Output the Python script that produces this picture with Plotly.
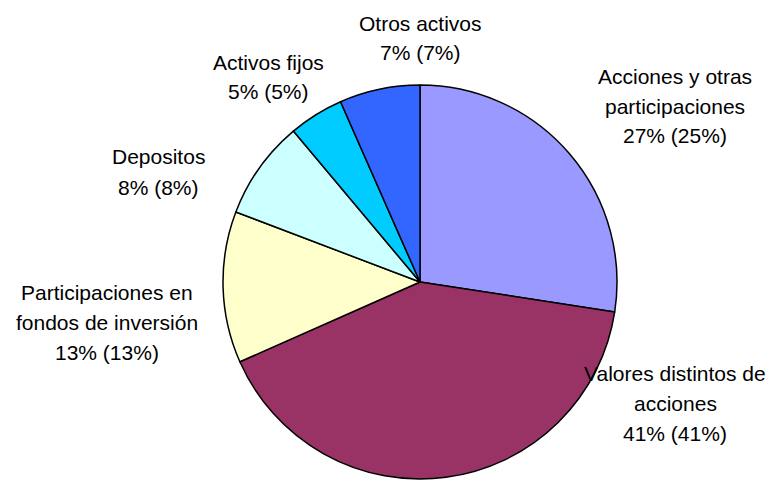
import plotly.graph_objects as go

# Data
categories = [
    "Acciones y otras participaciones",
    "Valores distintos de acciones",
    "Participaciones en fondos de inversión",
    "Depositos",
    "Activos fijos",
    "Otros activos",
]
label_lines = [
    ["Acciones y otras", "participaciones"],
    ["Valores distintos de", "acciones"],
    ["Participaciones en", "fondos de inversión"],
    ["Depositos"],
    ["Activos fijos"],
    ["Otros activos"],
]
slice_values = [27.4, 40.9, 12.4, 8.1, 4.5, 6.6]
current_pct = [27, 41, 13, 8, 5, 7]
previous_pct = [25, 41, 13, 8, 5, 7]

# Styles / layout (pixel positions in the 775x480 page; the page body adds an 8px margin)
colors = ["#9999FF", "#993366", "#FFFFCC", "#CCFFFF", "#00CCFF", "#3366FF"]
label_pos_px = [(675, 106), (675, 403), (107, 322), (158, 172), (268, 77), (420, 38)]
OFF = 8
W, H = 775 - OFF, 480 - OFF
cx, cy, r = 420 - OFF, 282 - OFF, 197
line_gap = 30

fig = go.Figure(
    go.Pie(
        labels=categories,
        values=slice_values,
        marker=dict(colors=colors, line=dict(color="black", width=1.5)),
        sort=False,
        direction="clockwise",
        rotation=0,
        textinfo="none",
        hoverinfo="label+percent",
        showlegend=False,
        domain=dict(x=[(cx - r) / W, (cx + r) / W], y=[1 - (cy + r) / H, 1 - (cy - r) / H]),
    )
)

annotations = []
for name_lines, cur, prev, (px, py) in zip(label_lines, current_pct, previous_pct, label_pos_px):
    lines = name_lines + [f"{cur}% ({prev}%)"]
    n = len(lines)
    for i, t in enumerate(lines):
        ly = py - OFF + (i - (n - 1) / 2) * line_gap
        annotations.append(
            dict(
                text=t,
                x=(px - OFF) / W,
                y=1 - ly / H,
                xref="paper",
                yref="paper",
                xanchor="center",
                yanchor="middle",
                showarrow=False,
                align="center",
                font=dict(family="Liberation Sans, Arial, sans-serif", size=21, color="black"),
            )
        )

fig.update_layout(
    width=W,
    height=H,
    margin=dict(l=0, r=0, t=0, b=0),
    paper_bgcolor="white",
    plot_bgcolor="white",
    annotations=annotations,
)

fig.write_html("out.html")
